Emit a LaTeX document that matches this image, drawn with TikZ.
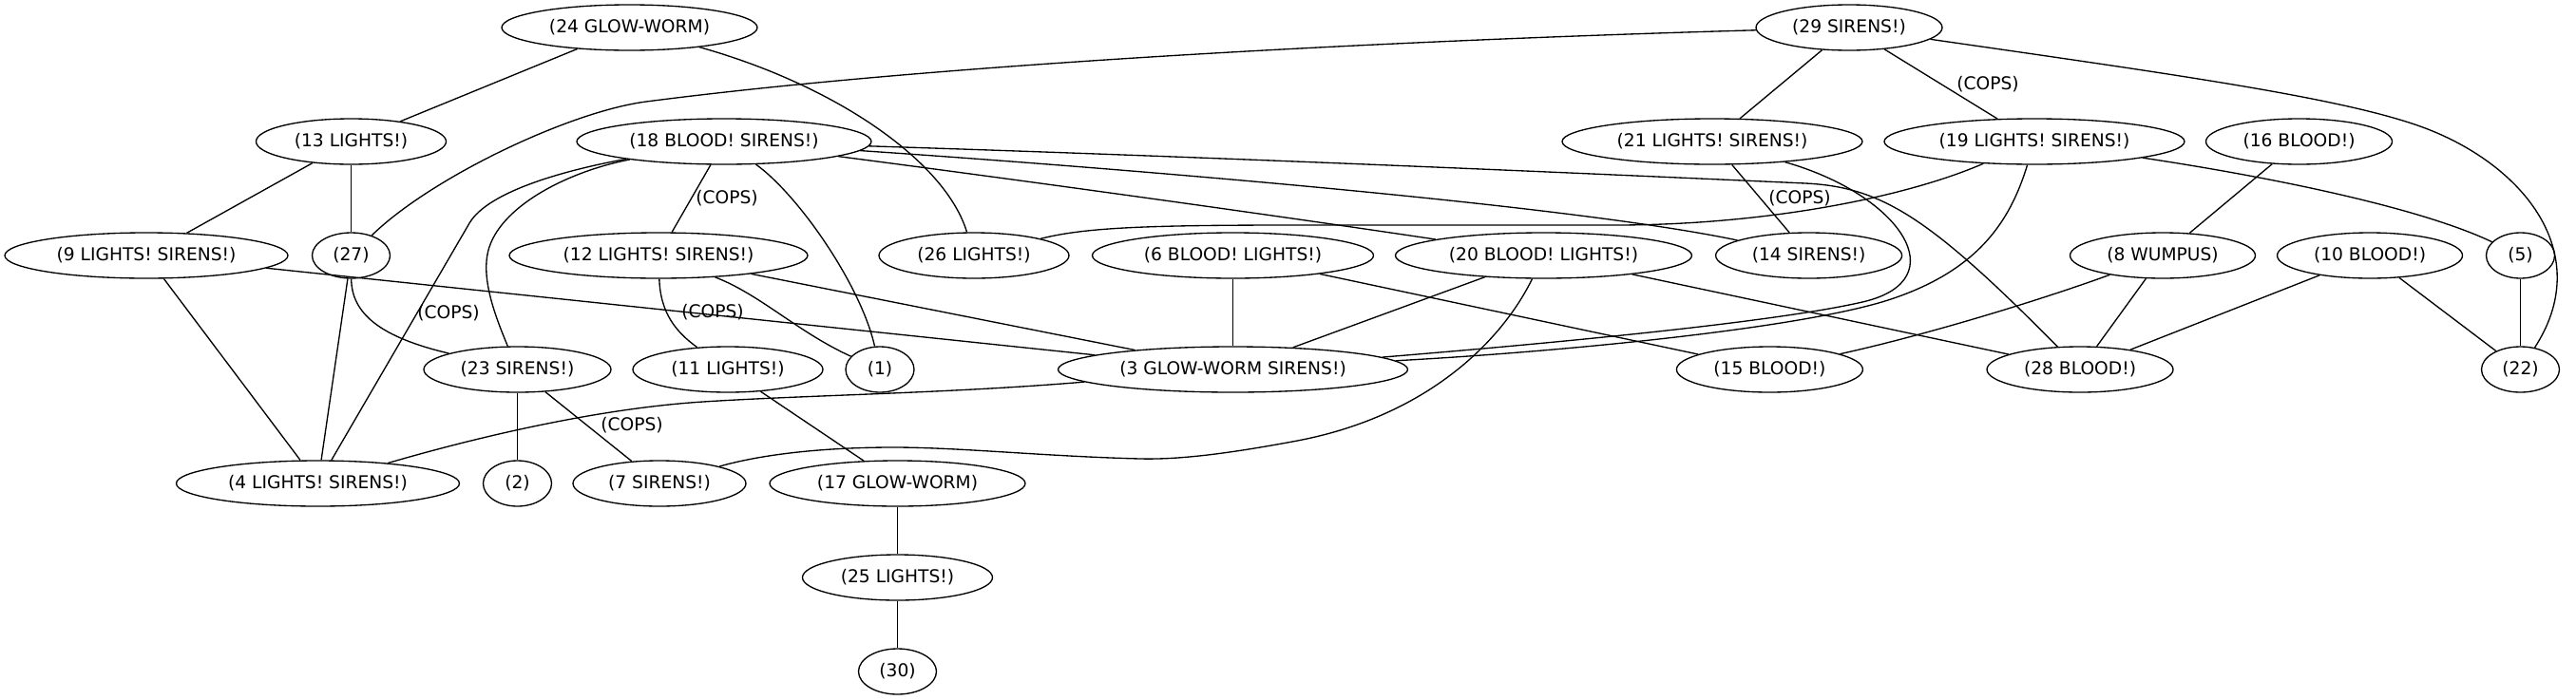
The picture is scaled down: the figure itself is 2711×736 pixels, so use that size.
\documentclass[tikz,border=0pt]{standalone}
\usepackage{fontspec}
\setmainfont{DejaVu Sans}
\usetikzlibrary{shapes.geometric}
\begin{document}
\begin{tikzpicture}[x=0.75pt,y=-0.75pt,
  every node/.style={font=\fontsize{14pt}{17pt}\selectfont},
  gv/.style={draw, ellipse, line width=1pt, inner sep=0pt, minimum height=36pt, minimum width=#1},
  lbl/.style={inner sep=0pt},
  gvedge/.style={line width=1pt}]
\fill[white] (0,0) rectangle (2711,736);
\useasboundingbox (0,0) rectangle (2711,736);
% nodes
\node[gv=201.75pt] (n24) at (662.5,29) {(24 GLOW-WORM)};
\node[gv=147pt] (n29) at (1946,29) {(29 SIRENS!)};
\node[gv=150pt] (n13) at (369.5,149) {(13 LIGHTS!)};
\node[gv=232.5pt] (n18) at (762,149) {(18 BLOOD! SIRENS!)};
\node[gv=237pt] (n21) at (1802,149) {(21 LIGHTS! SIRENS!)};
\node[gv=237pt] (n19) at (2141,149) {(19 LIGHTS! SIRENS!)};
\node[gv=147pt] (n16) at (2419.5,149) {(16 BLOOD!)};
\node[gv=223.5pt] (n9) at (154,269) {(9 LIGHTS! SIRENS!)};
\node[gv=61.5pt] (n27) at (369.5,269) {(27)};
\node[gv=235.5pt] (n12) at (693,269) {(12 LIGHTS! SIRENS!)};
\node[gv=150pt] (n26) at (1025,269) {(26 LIGHTS!)};
\node[gv=222pt] (n6) at (1297.5,269) {(6 BLOOD! LIGHTS!)};
\node[gv=234pt] (n20) at (1624.5,269) {(20 BLOOD! LIGHTS!)};
\node[gv=147pt] (n14) at (1903.6,269) {(14 SIRENS!)};
\node[gv=146.25pt] (n8) at (2276,269) {(8 WUMPUS)};
\node[gv=146.25pt] (n10) at (2494,269) {(10 BLOOD!)};
\node[gv=54pt] (n5) at (2652.5,269) {(5)};
\node[gv=147.75pt] (n23) at (544.5,389) {(23 SIRENS!)};
\node[gv=150pt] (n11) at (766,389) {(11 LIGHTS!)};
\node[gv=54pt] (n1) at (926,389) {(1)};
\node[gv=276pt] (n3) at (1297.5,389) {(3 GLOW-WORM SIRENS!)};
\node[gv=147pt] (n15) at (1862.4,389) {(15 BLOOD!)};
\node[gv=147pt] (n28) at (2189,389) {(28 BLOOD!)};
\node[gv=61.5pt] (n22) at (2652.5,389) {(22)};
\node[gv=223.5pt] (n4) at (334.5,509) {(4 LIGHTS! SIRENS!)};
\node[gv=54pt] (n2) at (544.5,509) {(2)};
\node[gv=136.5pt] (n7) at (694,509) {(7 SIRENS!)};
\node[gv=201.75pt] (n17) at (944.5,509) {(17 GLOW-WORM)};
\node[gv=150pt] (n25) at (944.5,608) {(25 LIGHTS!)};
\node[gv=61.5pt] (n30) at (944.5,707) {(30)};
% edge labels
\node[lbl] (c1) at (765,209) {(COPS)};
\node[lbl] (c2) at (472,330) {(COPS)};
\node[lbl] (c3) at (750,329) {(COPS)};
\node[lbl] (c4) at (665,448) {(COPS)};
\node[lbl] (c5) at (2092,89) {(COPS)};
\node[lbl] (c6) at (1894,209) {(COPS)};
% edges
\draw[gvedge] (n24) -- (n13);
\draw[gvedge] (n24) .. controls (880,90) and (995,170) .. (n26);
\draw[gvedge] (n29) .. controls (1450,43) and (980,68) .. (680,107) .. controls (600,117.4) and (454,186.6) .. (n27);
\draw[gvedge] (n29) -- (n21);
\draw[gvedge] (n29) -- (n19);
\draw[gvedge] (n29) .. controls (2300,80) and (2480,105) .. (2560,138) .. controls (2660,179) and (2730,270) .. (n22);
\draw[gvedge] (n13) -- (n9);
\draw[gvedge] (n13) -- (n27);
\draw[gvedge] (n18) -- (n12);
\draw[gvedge] (n18) .. controls (600,178) and (514,200.5) .. (494,235) -- (n4);
\draw[gvedge] (n18) .. controls (600,180) and (530,215) .. (515,260) .. controls (505,290) and (520,330) .. (n23);
\draw[gvedge] (n18) .. controls (840,205) and (906,300) .. (n1);
\draw[gvedge] (n18) .. controls (1100,193) and (1350,228) .. (n20);
\draw[gvedge] (n18) .. controls (1150,175) and (1650,215) .. (n14);
\draw[gvedge] (n18) .. controls (1300,166) and (1700,184) .. (1900,193) .. controls (1980,197) and (2030,228) .. (n28);
\draw[gvedge] (n21) -- (n14);
\draw[gvedge] (n21) .. controls (2000,205) and (2060,295) .. (1960,318) .. controls (1870,338.7) and (1650,360) .. (n3);
\draw[gvedge] (n19) .. controls (2115,235) and (2080,285) .. (1990,315) .. controls (1900,345) and (1650,370) .. (n3);
\draw[gvedge] (n26) .. controls (1140,240) and (1200,237) .. (1360,237) -- (1700,237) .. controls (1850,237) and (2000,210) .. (n19);
\draw[gvedge] (n19) .. controls (2400,188) and (2550,220) .. (n5);
\draw[gvedge] (n16) -- (n8);
\draw[gvedge] (n9) -- (n4);
\draw[gvedge] (n9) -- (n3);
\draw[gvedge] (n27) .. controls (370,330) and (400,355) .. (n23);
\draw[gvedge] (n27) -- (n4);
\draw[gvedge] (n12) -- (n3);
\draw[gvedge] (n12) .. controls (695,330) and (712,350) .. (n11);
\draw[gvedge] (n12) .. controls (800,310) and (840,350) .. (n1);
\draw[gvedge] (n6) -- (n3);
\draw[gvedge] (n6) -- (n15);
\draw[gvedge] (n20) -- (n3);
\draw[gvedge] (n20) .. controls (1580,360) and (1500,440) .. (1360,465) .. controls (1290,478) and (1240,484) .. (1200,483) .. controls (1100,480.5) and (1010,471) .. (940,471) .. controls (880,471) and (810,476) .. (n7);
\draw[gvedge] (n20) -- (n28);
\draw[gvedge] (n8) .. controls (2150,315) and (2030,352) .. (n15);
\draw[gvedge] (n8) -- (n28);
\draw[gvedge] (n10) -- (n28);
\draw[gvedge] (n10) -- (n22);
\draw[gvedge] (n5) -- (n22);
\draw[gvedge] (n23) -- (n2);
\draw[gvedge] (n23) -- (n7);
\draw[gvedge] (n3) .. controls (1000,414) and (850,416) .. (740,423) .. controls (640,429.4) and (520,455) .. (n4);
\draw[gvedge] (n11) -- (n17);
\draw[gvedge] (n17) -- (n25);
\draw[gvedge] (n25) -- (n30);
\end{tikzpicture}
\end{document}
